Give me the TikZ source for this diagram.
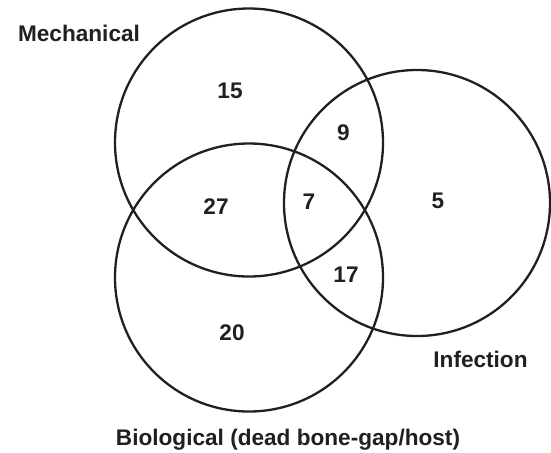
\documentclass[tikz,border=0pt]{standalone}
\usepackage{fontspec}
\setmainfont{Liberation Sans}
\usepackage{tikz}
\usetikzlibrary{positioning}
\definecolor{inkdark}{HTML}{231F20}
\tikzset{
  venn/set/.style={draw=inkdark, circle, line width=1.15pt, inner sep=0pt, minimum size=134pt},
  venn/count/.style={font=\fontsize{11.3}{13.5}\selectfont\bfseries, text=inkdark, inner sep=0pt},
  venn/label/.style={venn/count},
}

\begin{document}
\begin{tikzpicture}[x=0.5pt, y=-0.5pt]
  \useasboundingbox (0,0) rectangle (551,452);

  % the three sets
  \node[venn/set] (mech) at (249,142.5) {};
  \node[venn/set] (bio) at (249,277.5) {};
  \node[venn/set, minimum size=133pt] (inf) at (417,203) {};

  % set names
  \node[venn/label] (mechname) at (79,33) {Mechanical};
  \node[venn/label] (infname) at (480.5,359) {Infection};
  \node[venn/label, anchor=base] (bioname) at (288,445.5) {Biological (dead bone-gap/host)};

  % counts
  \node[venn/count] (nmech) at (230,91) {15};
  \node[venn/count] (nmechinf) at (343.5,133) {9};
  \node[venn/count] (nmechbio) at (216,207) {27};
  \node[venn/count] (nall) at (309,202) {7};
  \node[venn/count] (ninf) at (438,201) {5};
  \node[venn/count] (nbioinf) at (346,275) {17};
  \node[venn/count] (nbio) at (232,333) {20};
\end{tikzpicture}
\end{document}
